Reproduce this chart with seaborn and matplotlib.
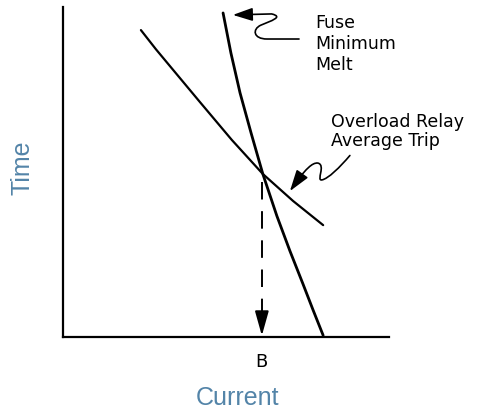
import matplotlib
matplotlib.use("Agg")
import matplotlib.pyplot as plt
from matplotlib.path import Path
from matplotlib.patches import FancyArrowPatch
import pandas as pd
import seaborn as sns

# curve values (arbitrary units, axes span 0..100)
fuse_current = [49.1, 51.5, 54.3, 57.7, 61.3, 65.6, 69.6, 73.6, 76.7, 79.8]
fuse_time = [98.2, 86.1, 74.0, 61.8, 49.4, 36.7, 26.1, 16.1, 8.2, 0.5]

relay_current = [23.9, 28.5, 32.8, 42.0, 51.8, 61.3, 70.6, 79.8]
relay_time = [93.0, 87.2, 82.1, 71.2, 59.7, 49.4, 41.2, 33.9]

b_current = 61.0
b_time = 49.4

fuse_lines = ["Fuse", "Minimum", "Melt"]
relay_lines = ["Overload Relay", "Average Trip"]

label_color = "#5384a8"

fuse = pd.DataFrame({"current": fuse_current, "time": fuse_time})
relay = pd.DataFrame({"current": relay_current, "time": relay_time})

sns.set_theme(style="white")
plt.rcParams["font.family"] = ["DejaVu Sans"]
plt.rcParams["text.color"] = "black"
plt.rcParams["xtick.color"] = "black"

fig = plt.figure(figsize=(4.82, 4.10), dpi=100)
ax = fig.add_axes([63 / 482, 72 / 410, 326 / 482, 330 / 410])

sns.lineplot(data=fuse, x="current", y="time", sort=False, estimator=None,
             color="black", lw=2.0, ax=ax)
sns.lineplot(data=relay, x="current", y="time", sort=False, estimator=None,
             color="black", lw=1.6, ax=ax)

# dashed drop line to B
ax.plot([b_current, b_current], [b_time - 2.5, 7.0], color="black", lw=1.4,
        ls=(0, (9, 6)))
ax.annotate("", xy=(b_current, 0.4), xytext=(b_current, 7.0),
            arrowprops=dict(arrowstyle="-|>,head_length=1.5,head_width=0.42",
                            color="black", lw=1.4, shrinkA=0, shrinkB=0,
                            mutation_scale=10))

# squiggle pointers
fuse_ptr = Path(
    [(72.4, 90.3), (62.6, 90.3), (58.3, 90.3), (58.0, 93.3), (60.7, 94.5),
     (63.8, 95.8), (67.8, 97.0), (64.0, 97.9), (52.1, 97.6)],
    [Path.MOVETO, Path.LINETO, Path.CURVE4, Path.CURVE4, Path.CURVE4,
     Path.CURVE4, Path.CURVE4, Path.CURVE4, Path.LINETO])
ax.add_patch(FancyArrowPatch(path=fuse_ptr, arrowstyle="-|>,head_length=1.2,head_width=0.4",
                             mutation_scale=10, color="black", lw=1.2,
                             clip_on=False))

relay_ptr = Path(
    [(88.0, 55.0),
     (85.0, 51.5), (81.3, 47.9), (79.4, 47.6),
     (77.6, 47.3), (80.7, 52.1), (78.2, 52.7),
     (76.4, 53.0), (74.2, 50.3), (72.7, 48.5),
     (69.6, 44.2)],
    [Path.MOVETO, Path.CURVE4, Path.CURVE4, Path.CURVE4,
     Path.CURVE4, Path.CURVE4, Path.CURVE4,
     Path.CURVE4, Path.CURVE4, Path.CURVE4, Path.LINETO])
ax.add_patch(FancyArrowPatch(path=relay_ptr, arrowstyle="-|>,head_length=1.3,head_width=0.42",
                             mutation_scale=10, color="black", lw=1.2,
                             clip_on=False))

for i, line in enumerate(fuse_lines):
    ax.annotate(line, xy=(77.3, 93.8), xytext=(0, -14.9 * i),
                textcoords="offset points", fontsize=12.5, va="baseline",
                ha="left", color="black", annotation_clip=False)
for i, line in enumerate(relay_lines):
    ax.annotate(line, xy=(82.2, 63.9), xytext=(0, -13.7 * i),
                textcoords="offset points", fontsize=12.5, va="baseline",
                ha="left", color="black", annotation_clip=False)

ax.set_xlim(0, 100)
ax.set_ylim(0, 100)
ax.set_xticks([b_current])
ax.set_xticklabels(["B"], fontsize=13, color="black")
ax.set_yticks([])
ax.tick_params(axis="x", length=0, pad=11)

sns.despine(ax=ax)
for side in ["left", "bottom"]:
    ax.spines[side].set_color("black")
    ax.spines[side].set_linewidth(1.6)

ax.set_xlabel("Current", fontsize=18, color=label_color, va="center",
              family="Liberation Sans")
ax.set_ylabel("Time", fontsize=18, color=label_color, va="center",
              family="Liberation Sans")
ax.xaxis.set_label_coords(0.534, -0.182)
ax.yaxis.set_label_coords(-0.123, 0.515)

fig.savefig("out.png", dpi=100)
